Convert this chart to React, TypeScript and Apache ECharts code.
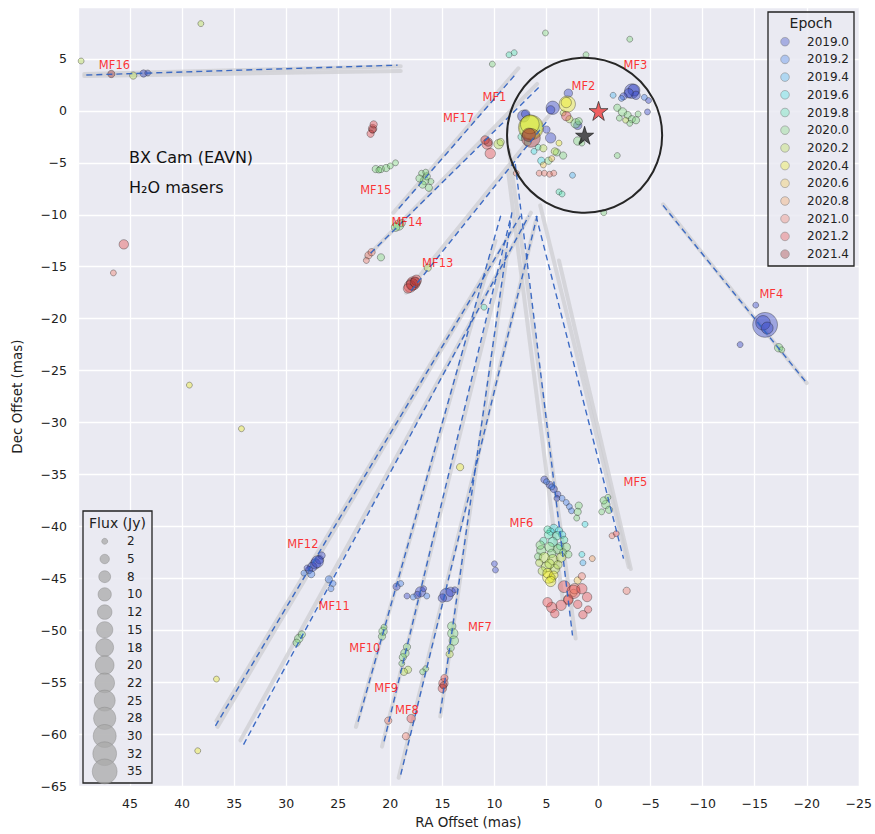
import React, { useEffect, useRef } from "react";
import * as echarts from "echarts";

// ---------------- DATA ----------------
const epochs = ["2019.0", "2019.2", "2019.4", "2019.6", "2019.8", "2020.0", "2020.2", "2020.4", "2020.6", "2020.8", "2021.0", "2021.2", "2021.4"];
const epochColors = ["#2c3fc4", "#3f7ee8", "#45b5f0", "#3fe3e3", "#4fe3b0", "#7fd97a", "#b8e04a", "#eeee22", "#f7c948", "#f7a35c", "#f27e6a", "#e84848", "#9e2a2a"];

// [RA offset, Dec offset, flux]
const e2019_0 = [
  [-3.2, 1.9, 12], [-3.4, 2.0, 8], [-2.9, 1.7, 5], [-2.4, 1.4, 3], [-4.8, 1.0, 2], [-4.7, -0.1, 2], [-3.6, 1.5, 4],
  [2.9, 1.7, 4], [4.4, 0.3, 10], [4.6, 0.1, 4], [2.0, -1.4, 4], [4.6, -2.6, 6],
  [7.2, -0.5, 8], [7.0, -0.3, 4], [5.0, -1.8, 3],
  [-16.0, -20.6, 35], [-15.8, -20.4, 12], [-16.2, -20.9, 8], [-15.1, -18.7, 2], [-13.6, -22.5, 2],
  [27.2, -43.6, 6], [27.5, -43.9, 5], [26.8, -43.2, 4], [27.8, -44.2, 3], [26.6, -42.8, 3], [27.0, -43.4, 8], [28.0, -44.0, 2],
  [43.7, 3.6, 3], [43.3, 3.65, 2],
  [14.6, -46.6, 10], [14.2, -46.3, 5], [15.0, -46.9, 4], [13.8, -46.1, 2],
  [17.1, -46.3, 6], [17.4, -46.6, 3], [16.8, -46.0, 2], [18.4, -46.7, 2],
  [10.0, -43.6, 2], [9.9, -44.2, 2],
  [5.2, -35.5, 3], [4.7, -36.0, 3], [4.3, -36.4, 3], [3.9, -36.9, 2], [4.0, -37.3, 2],
  [19.4, -45.8, 3],
];
const e2019_2 = [
  [3.5, -37.3, 2], [3.1, -37.7, 2], [2.8, -38.1, 2], [5.0, -35.7, 2], [2.6, -38.5, 2], [4.5, -36.2, 2],
  [25.9, -45.1, 3], [25.5, -45.5, 2], [25.7, -46.0, 2],
  [27.6, -44.6, 3], [28.3, -44.5, 2],
  [-2.2, 1.2, 2], [-4.4, 1.3, 2],
  [17.8, -46.8, 2], [16.5, -46.7, 2], [19.0, -45.5, 2],
];
const e2019_4 = [
  [-1.4, 1.5, 2], [2.5, -6.2, 2], [1.5, -43.5, 2],
];
const e2019_6 = [
  [4.3, -40.2, 4], [3.8, -40.4, 3], [4.6, -40.5, 3], [3.5, -40.8, 3], [1.3, -39.8, 2], [1.6, -42.7, 2],
  [5.5, -4.8, 3], [6.2, -3.9, 2],
];
const e2019_8 = [
  [4.8, -40.8, 4], [4.0, -40.9, 4], [3.3, -41.3, 3], [5.3, -41.4, 3], [4.4, -41.5, 5], [4.9, -40.3, 3], [3.7, -41.9, 3],
  [6.8, -3.0, 3], [7.4, -2.5, 3], [5.8, -3.5, 2], [3.8, -7.8, 2], [3.5, -8.0, 2], [8.1, 5.6, 2], [8.6, 5.4, 2],
  [11.0, -18.9, 2],
];
const e2020_0 = [
  [-1.8, 0.3, 3], [-2.3, -0.1, 4], [-2.8, -0.4, 3], [-3.2, -0.8, 3], [-3.6, -0.9, 3], [-2.0, -0.7, 2], [-3.0, -1.2, 2], [-3.8, -0.3, 2],
  [2.2, -1.2, 5], [1.9, -1.0, 3], [2.0, -2.9, 4], [1.6, -3.1, 2], [4.0, -4.0, 3], [3.4, -4.3, 3], [4.8, -4.8, 3],
  [5.1, 7.5, 2], [-3.0, 6.9, 2], [6.5, -1.6, 30], [10.2, 4.5, 2], [1.2, 5.4, 2], [-1.8, -4.3, 2], [-0.5, -9.8, 2],
  [16.7, -6.7, 4], [16.5, -6.3, 3], [16.9, -7.1, 3], [17.2, -6.5, 3], [16.3, -7.4, 3], [16.1, -6.8, 2], [17.0, -6.0, 2], [16.6, -5.9, 2],
  [21.4, -5.6, 3], [20.9, -5.6, 3], [20.4, -5.5, 3], [20.0, -5.3, 2], [19.5, -5.0, 2], [21.1, -5.7, 2],
  [19.2, -11.0, 6], [19.5, -11.2, 4], [18.9, -10.8, 3], [20.9, -14.1, 3],
  [28.8, -50.8, 4], [29.0, -51.2, 3], [28.5, -50.4, 3],
  [20.7, -50.1, 4], [20.8, -50.6, 3], [20.6, -49.7, 2],
  [18.6, -52.2, 4], [18.8, -52.6, 3], [18.4, -51.6, 3], [18.9, -53.2, 2],
  [14.0, -50.3, 6], [14.1, -49.6, 4], [13.9, -51.0, 5], [14.2, -51.7, 3],
  [1.9, -38.0, 3], [2.0, -38.6, 3], [2.1, -39.2, 2], [5.5, -42.3, 5], [4.7, -42.0, 5], [3.9, -42.2, 5], [3.1, -42.0, 4],
  [5.6, -41.8, 4], [4.5, -42.6, 4], [3.4, -42.5, 3], [5.8, -42.9, 3], [2.9, -42.7, 3],
  [-0.7, -37.9, 4], [-0.5, -37.5, 3], [-1.0, -38.4, 3], [-0.9, -37.2, 2], [-0.3, -38.6, 2],
  [-17.3, -22.8, 4], [-17.6, -23.0, 2],
  [16.6, -53.7, 2], [16.9, -54.0, 2],
];
const e2020_2 = [
  [5.2, -43.0, 6], [4.4, -43.2, 6], [3.6, -43.0, 5], [5.0, -43.9, 6], [4.2, -44.1, 5], [5.4, -44.3, 4],
  [4.7, -43.6, 5], [3.9, -43.7, 4], [5.7, -43.5, 3], [4.5, -45.0, 4],
  [18.3, -53.8, 3], [18.7, -54.0, 3], [14.3, -52.3, 3],
  [9.6, -3.2, 5], [9.4, -3.0, 3], [5.3, -3.6, 3], [4.2, -3.9, 3], [2.8, -0.8, 3], [3.4, -0.2, 2], [-2.6, -0.9, 2],
  [16.4, -15.1, 3], [44.7, 3.4, 3], [49.7, 4.8, 2], [38.2, 8.4, 2],
];
const e2020_4 = [
  [3.0, 0.65, 15], [3.1, 0.8, 6], [6.5, -1.6, 35], [6.6, -1.3, 20],
  [4.8, -44.9, 8], [4.9, -44.5, 5], [4.3, -44.7, 4], [4.6, -45.3, 6],
  [39.3, -26.4, 2], [34.3, -30.6, 2], [36.7, -54.7, 2], [38.5, -61.6, 2], [13.3, -34.3, 3], [3.8, -3.1, 2],
];
const e2020_6 = [
  [5.3, -5.2, 2], [4.5, -4.6, 2], [2.0, -45.2, 3],
];
const e2020_8 = [
  [0.6, -43.1, 2], [2.4, -46.4, 3],
];
const e2021_0 = [
  [1.6, -44.8, 3], [2.3, -46.0, 6], [2.9, -47.0, 5],
  [20.2, -58.7, 3], [18.5, -60.2, 3],
  [5.7, -6.0, 2], [5.2, -6.0, 2], [4.7, -6.1, 2], [4.3, -6.0, 2], [7.9, -6.0, 2],
  [22.1, -13.9, 3], [21.8, -13.6, 3], [22.3, -14.4, 2],
  [-2.7, -46.2, 3], [-1.3, -40.9, 2], [46.6, -15.6, 2],
];
const e2021_2 = [
  [3.3, -45.8, 8], [2.4, -46.3, 10], [1.6, -46.0, 6], [2.9, -47.1, 5], [3.6, -47.6, 6], [1.1, -46.8, 5],
  [4.5, -47.8, 6], [4.9, -47.3, 5], [4.2, -48.4, 4], [2.0, -47.5, 4], [1.5, -48.5, 4], [1.0, -48.0, 3],
  [10.7, -3.2, 6], [10.4, -4.1, 6], [10.9, -2.8, 4],
  [17.8, -16.6, 10], [18.1, -16.9, 8], [17.5, -16.3, 6], [18.3, -17.1, 5],
  [21.7, -1.7, 4], [21.9, -2.2, 3], [21.6, -1.3, 3],
  [3.1, -0.5, 5], [45.6, -12.85, 5], [18.0, -58.5, 4],
  [14.9, -55.1, 5], [15.0, -55.6, 4], [14.8, -54.6, 3], [-1.7, -40.7, 2],
];
const e2021_4 = [
  [6.5, -2.6, 20], [6.7, -2.3, 10], [17.9, -16.7, 8], [17.6, -16.5, 6],
  [46.8, 3.55, 3], [10.6, -3.0, 4], [21.7, -1.8, 3], [14.9, -55.3, 3],
];
const epochData = [e2019_0, e2019_2, e2019_4, e2019_6, e2019_8, e2020_0, e2020_2, e2020_4, e2020_6, e2020_8, e2021_0, e2021_2, e2021_4];

const fluxLegend = [2, 5, 8, 10, 12, 15, 18, 20, 22, 25, 28, 30, 32, 35];

// proper-motion tracks (grey bands) and linear fits (dashed)
const grayTracks = [
  [[49.4, 3.35], [19.0, 3.85]], [[49.4, 3.55], [19.0, 4.3]],
  [[-6.2, -9.0], [-20.0, -26.2]],
  [[36.7, -58.7], [10.4, -14.8]], [[36.6, -59.3], [8.0, -11.0]],
  [[34.4, -60.6], [6.5, -9.8]],
  [[23.3, -59.3], [9.9, -12.5]],
  [[20.8, -61.2], [8.9, -13.4]],
  [[19.2, -64.2], [6.0, -10.5]],
  [[15.2, -58.3], [8.8, -13.9]],
  [[8.6, -3.8], [2.2, -50.8]], [[8.7, -5.75], [3.45, -47.0]],
  [[5.6, -9.1], [-2.9, -43.9]], [[3.8, -14.4], [-3.1, -44.1]],
  [[18.5, -17.5], [4.8, -0.5]],
  [[22.4, -14.2], [5.9, 2.6]],
  [[19.7, -9.8], [7.7, 4.1]],
];
const fitLines = [
  [[49.2, 3.45], [19.3, 4.4]],
  [[-6.2, -9.1], [-20.0, -26.2]],
  [[36.8, -59.2], [7.5, -10.1]],
  [[34.1, -61.0], [6.7, -10.1]],
  [[23.1, -58.8], [9.4, -10.1]],
  [[20.6, -60.7], [8.4, -10.1]],
  [[19.0, -63.9], [5.9, -10.1]],
  [[15.2, -58.0], [8.3, -9.6]],
  [[8.0, -5.1], [2.5, -50.5]],
  [[6.0, -10.1], [-2.4, -43.1]],
  [[18.0, -17.3], [4.8, -0.8]],
  [[21.9, -13.7], [5.6, 2.4]],
  [[19.2, -9.4], [7.9, 3.6]],
];

const featureLabels = [
  ["MF1", 10.0, 1.35], ["MF2", 1.45, 2.4], ["MF3", -3.55, 4.4], ["MF4", -16.6, -17.65],
  ["MF5", -3.55, -35.7], ["MF6", 7.4, -39.7], ["MF7", 11.4, -49.65], ["MF8", 18.4, -57.7],
  ["MF9", 20.4, -55.6], ["MF10", 22.45, -51.7], ["MF11", 25.4, -47.65], ["MF12", 28.4, -41.7],
  ["MF13", 15.45, -14.65], ["MF14", 18.4, -10.65], ["MF15", 21.4, -7.65], ["MF16", 46.5, 4.4],
  ["MF17", 13.45, -0.65],
];

const regionCircle = [[1.34, -2.35, 7.45]];
const refStar = [[0, 0]];
const centroidStar = [[1.34, -2.35]];

// ---------------- HELPERS ----------------
const FONT = "'DejaVu Sans', sans-serif";
const STAR = "path://M50,0 L61,35 L98,35 L68,57 L79,91 L50,70 L21,91 L32,57 L2,35 L39,35 Z";

function hexA(hex: string, a: number) {
  const r = parseInt(hex.slice(1, 3), 16), g = parseInt(hex.slice(3, 5), 16), b = parseInt(hex.slice(5, 7), 16);
  return `rgba(${r},${g},${b},${a})`;
}
const sizeOf = (f: number) => 4.2 * Math.sqrt(f);
const minus = (v: number) => (v < 0 ? "\u2212" + Math.abs(v) : String(v));

export default function App() {
  const ref = useRef<HTMLDivElement>(null);
  useEffect(() => {
    if (!ref.current) return;
    const chart = echarts.init(ref.current, undefined, { renderer: "svg" });

    const series: any[] = [];
    series.push({
      type: "lines", coordinateSystem: "cartesian2d", polyline: false, z: 1, silent: true,
      data: grayTracks.map((c) => ({ coords: c })),
      lineStyle: { color: "#cdcdd2", opacity: 0.75, width: 4, cap: "round" },
    });
    epochs.forEach((ep, i) => {
      series.push({
        type: "scatter", name: ep, z: 3,
        data: epochData[i],
        symbolSize: (v: number[]) => sizeOf(v[2]),
        itemStyle: { color: hexA(epochColors[i], 0.5), borderColor: "rgba(30,30,30,0.55)", borderWidth: 0.8 },
      });
    });
    series.push({
      type: "lines", coordinateSystem: "cartesian2d", polyline: false, z: 4, silent: true,
      data: fitLines.map((c) => ({ coords: c })),
      lineStyle: { color: "#3464c2", width: 1.4, type: [6, 4], opacity: 0.95 },
    });
    series.push({
      type: "custom", z: 5, silent: true,
      data: regionCircle,
      renderItem: (_p: any, api: any) => {
        const c = api.coord([api.value(0), api.value(1)]);
        const r = api.size([api.value(2), 0])[0];
        return { type: "circle", shape: { cx: c[0], cy: c[1], r }, style: { fill: "none", stroke: "#262626", lineWidth: 2 } };
      },
    });
    series.push({
      type: "scatter", z: 6, data: refStar, symbol: STAR, symbolSize: 19,
      itemStyle: { color: "#ee3b3b", borderColor: "#333", borderWidth: 1 },
    });
    series.push({
      type: "scatter", z: 6, data: centroidStar, symbol: STAR, symbolSize: 18,
      itemStyle: { color: "#2a2a2a", borderColor: "#111", borderWidth: 0.8 },
    });
    series.push({
      type: "scatter", z: 7, silent: true,
      data: featureLabels.map((l) => [l[1], l[2], l[0]]),
      symbolSize: 1, itemStyle: { color: "rgba(0,0,0,0)" },
      label: { show: true, position: "inside", formatter: (p: any) => p.data[2], color: "#ff0000", fontSize: 11.5, fontFamily: FONT },
    });

    // legends via graphic
    const g: any[] = [];
    const ex = 768, ey = 12, ew = 86, eh = 254;
    g.push({ type: "rect", shape: { x: ex, y: ey, width: ew, height: eh }, style: { fill: "rgba(234,234,242,0.85)", stroke: "#222", lineWidth: 1.3 }, z: 100 });
    g.push({ type: "text", x: ex + ew / 2, y: 23, z: 101, style: { text: "Epoch", font: `14px ${FONT}`, fill: "#222", textAlign: "center", textVerticalAlign: "middle" } });
    epochs.forEach((ep, i) => {
      const y = 41.7 + i * 17.7;
      g.push({ type: "circle", z: 101, shape: { cx: 785, cy: y, r: 4.3 }, style: { fill: hexA(epochColors[i], 0.35), stroke: "rgba(120,120,120,0.6)", lineWidth: 0.8 } });
      g.push({ type: "text", z: 101, x: 807, y, style: { text: ep, font: `12px ${FONT}`, fill: "#222", textVerticalAlign: "middle" } });
    });
    const fx = 83, fy = 511, fw = 69, fh = 272;
    g.push({ type: "rect", shape: { x: fx, y: fy, width: fw, height: fh }, style: { fill: "rgba(234,234,242,0.85)", stroke: "#222", lineWidth: 1.3 }, z: 100 });
    g.push({ type: "text", x: fx + fw / 2, y: 523, z: 101, style: { text: "Flux (Jy)", font: `14px ${FONT}`, fill: "#222", textAlign: "center", textVerticalAlign: "middle" } });
    fluxLegend.forEach((f, i) => {
      const y = 541.3 + i * 17.7;
      g.push({ type: "circle", z: 101, shape: { cx: 104.7, cy: y, r: sizeOf(f) / 2 }, style: { fill: "rgba(170,170,170,0.75)", stroke: "rgba(130,130,130,0.5)", lineWidth: 0.8 } });
      g.push({ type: "text", z: 101, x: 127, y, style: { text: String(f), font: `12px ${FONT}`, fill: "#222", textVerticalAlign: "middle" } });
    });
    g.push({ type: "text", z: 101, x: 129, y: 157, style: { text: "BX Cam (EAVN)", font: `16px ${FONT}`, fill: "#111", textVerticalAlign: "middle" } });
    g.push({ type: "text", z: 101, x: 129, y: 187, style: { text: "H\u2082O masers", font: `16px ${FONT}`, fill: "#111", textVerticalAlign: "middle" } });

    chart.setOption({
      animation: false,
      backgroundColor: "#ffffff",
      grid: { left: 78, right: 16, top: 7, bottom: 46, show: true, backgroundColor: "#EAEAF2", borderWidth: 0 },
      xAxis: {
        type: "value", inverse: true, min: -25, max: 50, interval: 5,
        name: "RA Offset (mas)", nameLocation: "middle", nameGap: 28,
        nameTextStyle: { fontSize: 13.5, fontFamily: FONT, color: "#222" },
        axisLine: { show: false }, axisTick: { show: false },
        axisLabel: { showMaxLabel: false, formatter: minus, fontSize: 12.5, fontFamily: FONT, color: "#222", margin: 11 },
        splitLine: { show: true, lineStyle: { color: "#ffffff", width: 1.3 } },
      },
      yAxis: {
        type: "value", min: -65, max: 10, interval: 5,
        name: "Dec Offset (mas)", nameLocation: "middle", nameGap: 54, nameRotate: 90,
        nameTextStyle: { fontSize: 13.5, fontFamily: FONT, color: "#222" },
        axisLine: { show: false }, axisTick: { show: false },
        axisLabel: { showMaxLabel: false, formatter: minus, fontSize: 12.5, fontFamily: FONT, color: "#222", margin: 11 },
        splitLine: { show: true, lineStyle: { color: "#ffffff", width: 1.3 } },
      },
      series,
      graphic: g,
    });
    return () => chart.dispose();
  }, []);
  return <div ref={ref} style={{ position: "fixed", left: 0, top: 0, width: 875, height: 834 }} />;
}
